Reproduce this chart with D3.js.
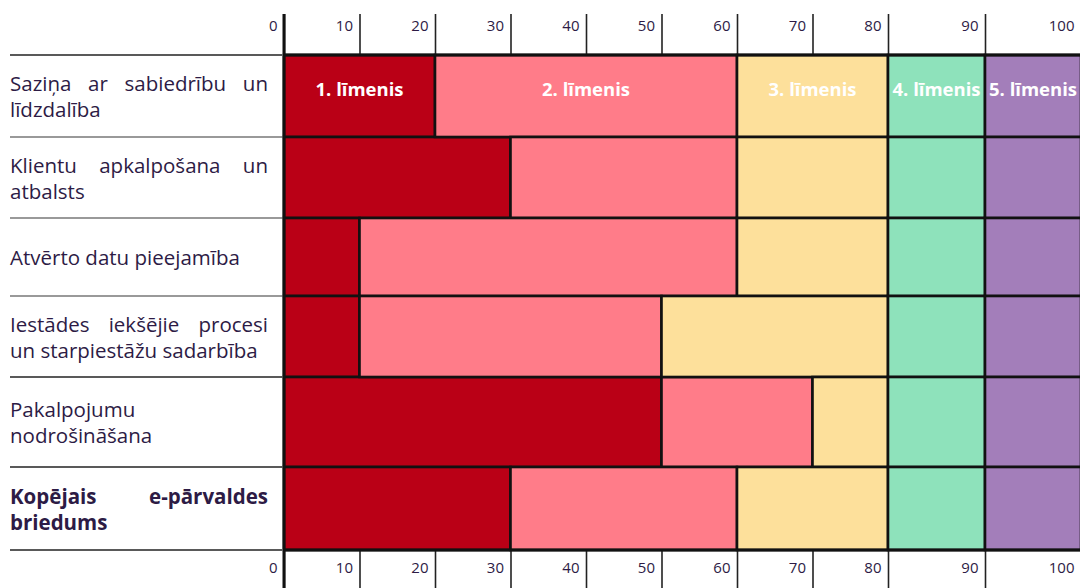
<!DOCTYPE html>
<html>
<head>
<meta charset="utf-8">
<script src="https://cdn.jsdelivr.net/npm/d3@7"></script>
<style>
  html, body { margin: 0; padding: 0; background: #fff; }
  svg { display: block; }
</style>
</head>
<body>
<svg id="chart" width="1080" height="588"></svg>
<script>
// ---------- data ----------
const categories = [
  "Saziņa ar sabiedrību un\nlīdzdalība",
  "Klientu apkalpošana un\natbalsts",
  "Atvērto datu pieejamība",
  "Iestādes iekšējie procesi\nun starpiestāžu sadarbība",
  "Pakalpojumu\nnodrošināšana",
  "Kopējais e-pārvaldes\nbriedums"
];
const boldCategory = "Kopējais e-pārvaldes\nbriedums";
const levelNames = ["1. līmenis", "2. līmenis", "3. līmenis", "4. līmenis", "5. līmenis"];
const level1 = [20, 30, 10, 10, 50, 30];
const level2 = [40, 30, 50, 40, 20, 30];
const level3 = [20, 20, 20, 30, 10, 20];
const level4 = [10, 10, 10, 10, 10, 10];
const level5 = [10, 10, 10, 10, 10, 10];
const tickValues = [0, 10, 20, 30, 40, 50, 60, 70, 80, 90, 100];
const levelColors = ["#BA0016", "#FF7C89", "#FDE09B", "#8EE2BB", "#A37EBA"];

// ---------- layout ----------
const W = 1080, H = 588;
const plotLeft = 284, plotRight = 1081, plotTop = 55, plotBottom = 550;
const labelLeft = 10, labelRight = 268;
const rowHeights = [82, 81, 78, 81, 90, 83];   // table rows (layout only)
const textColor = "#2d1b45";
const fontFamily = "'Open Sans', 'Noto Sans', sans-serif";

const svg = d3.select("#chart");

const rows = categories.map((c, i) => ({
  cat: c, l1: level1[i], l2: level2[i], l3: level3[i], l4: level4[i], l5: level5[i]
}));
const keys = ["l1", "l2", "l3", "l4", "l5"];
const stacked = d3.stack().keys(keys)(rows);

// table-like column widths: 0–80 even, the last two columns wider
const x = d3.scaleLinear().domain([0, 80, 90, 100]).range([plotLeft, 888, 985, plotRight]);

// row scale: index -> top of the row (table rows with their own heights)
const rowEdges = [plotTop];
rowHeights.forEach(h => rowEdges.push(rowEdges[rowEdges.length - 1] + h));
const rowScale = d3.scaleLinear().domain(d3.range(rowEdges.length)).range(rowEdges);
const rowIndex = new Map(categories.map((c, i) => [c, i]));
const yTop = c => rowScale(rowIndex.get(c));
const yH = c => rowScale(rowIndex.get(c) + 1) - rowScale(rowIndex.get(c));

// ---------- bars ----------
const layers = svg.append("g").selectAll("g")
  .data(stacked).join("g")
  .attr("fill", (d, i) => levelColors[i]);

layers.selectAll("rect")
  .data(d => d.map(v => ({ v, cat: v.data.cat })))
  .join("rect")
  .attr("x", d => x(d.v[0]))
  .attr("y", d => yTop(d.cat))
  .attr("width", d => x(d.v[1]) - x(d.v[0]))
  .attr("height", d => yH(d.cat))
  .attr("stroke", "#111")
  .attr("stroke-width", 2.6);

// level labels in the first row
const firstCat = categories[0];
svg.append("g").selectAll("text")
  .data(stacked).join("text")
  .attr("x", d => (x(d[0][0]) + x(d[0][1])) / 2)
  .attr("y", yTop(firstCat) + yH(firstCat) * 0.42 + 2)
  .attr("text-anchor", "middle")
  .attr("dominant-baseline", "middle")
  .attr("font-family", fontFamily)
  .attr("font-weight", "bold")
  .attr("font-size", 18.5)
  .attr("fill", "#fff")
  .text((d, i) => levelNames[i]);

// ---------- axes ----------
function styleAxis(g, isTop) {
  g.select(".domain").remove();
  g.selectAll(".tick line").attr("stroke", "#222").attr("stroke-width", 1.6);
  g.selectAll(".tick text")
    .attr("text-anchor", "end")
    .attr("x", -7)
    .attr("y", isTop ? -29 : 18)
    .attr("dy", "0.32em")
    .attr("fill", textColor)
    .attr("font-family", fontFamily)
    .attr("font-size", 15);
}
svg.append("g")
  .attr("transform", `translate(0,${plotTop})`)
  .call(d3.axisTop(x).tickValues(tickValues).tickSize(41).tickFormat(d3.format("d")))
  .call(g => styleAxis(g, true));
svg.append("g")
  .attr("transform", `translate(0,${plotBottom})`)
  .call(d3.axisBottom(x).tickValues(tickValues).tickSize(40).tickFormat(d3.format("d")))
  .call(g => styleAxis(g, false));

// left border of the bar area
svg.append("line")
  .attr("x1", x(0)).attr("x2", x(0))
  .attr("y1", 14).attr("y2", H)
  .attr("stroke", "#111").attr("stroke-width", 3);

// horizontal lines on the top and bottom of the plot
[plotTop, plotBottom].forEach(yy => {
  svg.append("line")
    .attr("x1", x(0)).attr("x2", plotRight)
    .attr("y1", yy).attr("y2", yy)
    .attr("stroke", "#111").attr("stroke-width", 3);
});

// ---------- row label separators ----------
const bounds = rowEdges;
svg.append("g").selectAll("line")
  .data(bounds).join("line")
  .attr("x1", labelLeft).attr("x2", x(0) - 2)
  .attr("y1", d => d).attr("y2", d => d)
  .attr("stroke", (d, i) => (i === 0 || i === bounds.length - 1 || i === 4 || i === 5) ? "#222" : "#777")
  .attr("stroke-width", 1.6);

// ---------- row labels (justified) ----------
const fontSize = 20.5;
const lineH = 26;
const labelG = svg.append("g");
categories.forEach(cat => {
  const lines = cat.split("\n");
  const bold = cat === boldCategory;
  const cy = yTop(cat) + yH(cat) / 2 + 3;
  const y0 = cy - (lines.length - 1) * lineH / 2;
  lines.forEach((line, li) => {
    const words = line.split(" ");
    const baseY = y0 + li * lineH;
    const isLast = li === lines.length - 1;
    const g = labelG.append("g");
    const texts = words.map(w => g.append("text")
      .attr("y", baseY)
      .attr("dominant-baseline", "middle")
      .attr("font-family", fontFamily)
      .attr("font-size", fontSize)
      .attr("font-weight", bold ? "bold" : "normal")
      .attr("fill", textColor)
      .text(w));
    const widths = texts.map(t => t.node().getComputedTextLength());
    const total = d3.sum(widths);
    let gap;
    if (!isLast && words.length > 1) {
      gap = (labelRight - labelLeft - total) / (words.length - 1);
    } else {
      const sp = g.append("text").attr("font-family", fontFamily).attr("font-size", fontSize)
        .attr("font-weight", bold ? "bold" : "normal").text("a a");
      const spA = g.append("text").attr("font-family", fontFamily).attr("font-size", fontSize)
        .attr("font-weight", bold ? "bold" : "normal").text("aa");
      gap = sp.node().getComputedTextLength() - spA.node().getComputedTextLength();
      sp.remove(); spA.remove();
    }
    let cx = labelLeft;
    texts.forEach((t, k) => {
      t.attr("x", cx);
      cx += widths[k] + gap;
    });
  });
});
</script>
</body>
</html>
